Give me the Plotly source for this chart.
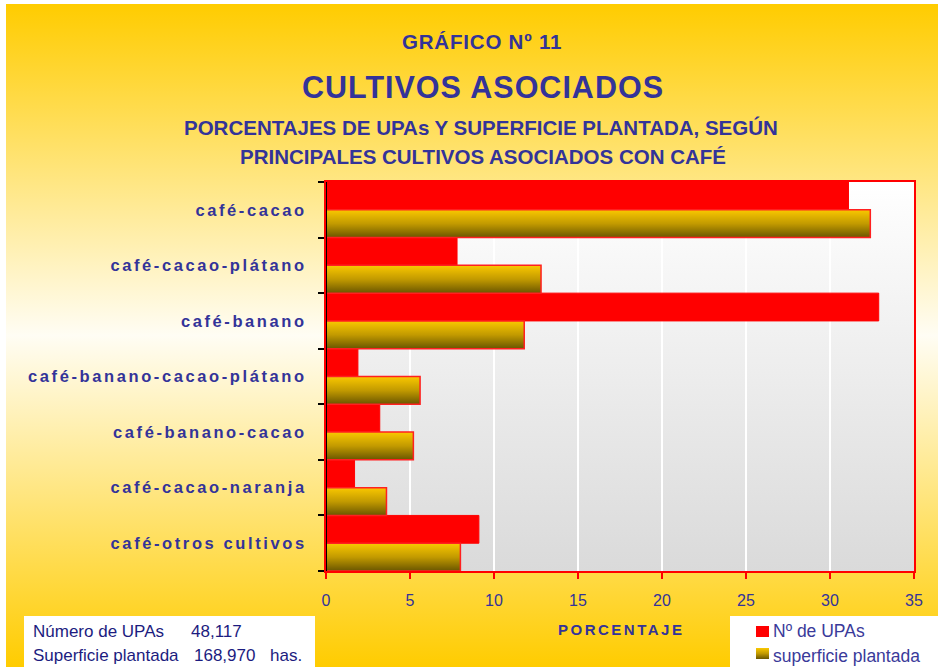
import base64
import plotly.graph_objects as go

# ---------------- data ----------------
categories = ["café-cacao", "café-cacao-plátano", "café-banano",
              "café-banano-cacao-plátano", "café-banano-cacao",
              "café-cacao-naranja", "café-otros cultivos"]
pct_upas = [31.1, 7.8, 32.9, 1.9, 3.2, 1.7, 9.1]
pct_superficie = [32.4, 12.8, 11.8, 5.6, 5.2, 3.6, 8.0]
x_ticks = [0, 5, 10, 15, 20, 25, 30, 35]
series_names = ["Nº de UPAs", "superficie plantada"]
info_labels = ["Número de UPAs", "Superficie plantada"]
info_values = ["48,117", "168,970"]
info_unit = "has."

# ---------------- layout geometry ----------------
W, H = 938, 667
L, R, T, B = 326, 24, 182, 96
PW, PH = W - L - R, H - T - B
FONT = "Liberation Sans, Arial, sans-serif"
NAVY = "#333399"


def px(x):
    return (x - L) / PW


def py(y):
    return (H - B - y) / PH


def svg_uri(stops, w=10, h=200):
    st = "".join(f'<stop offset="{o}" stop-color="{c}"/>' for o, c in stops)
    svg = (f'<svg xmlns="http://www.w3.org/2000/svg" width="{w}" height="{h}" '
           f'viewBox="0 0 {w} {h}" preserveAspectRatio="none"><defs>'
           f'<linearGradient id="g" x1="0" y1="0" x2="0" y2="1">{st}</linearGradient>'
           f'</defs><rect width="{w}" height="{h}" fill="url(#g)"/></svg>')
    return "data:image/svg+xml;base64," + base64.b64encode(svg.encode()).decode()


def spaced(text, sp):
    return f'<span style="letter-spacing:{sp}px">{text}</span>'


n = len(categories)
centers = [n - 1 - i for i in range(n)]
bounds = [c - 0.5 for c in centers] + [centers[0] + 0.5]

fig = go.Figure()

# red bars (upper half of each band)
fig.add_trace(go.Bar(
    x=pct_upas, y=[c + 0.25 for c in centers], width=0.5, orientation="h",
    name=series_names[0], marker=dict(color="#FF0000", line=dict(color="#FF0000", width=1)),
    showlegend=False, hoverinfo="x"))

# gradient bars (lower half of each band)
gold_scale = [[0, "#6A5600"], [0.5, "#C29A00"], [1, "#FAC800"]]
for c, v in zip(centers, pct_superficie):
    fig.add_trace(go.Scatter(
        x=[0, v, v, 0, 0], y=[c - 0.5, c - 0.5, c, c, c - 0.5],
        mode="lines", fill="toself",
        fillgradient=dict(type="vertical", colorscale=gold_scale),
        line=dict(color="#FF2020", width=1.5),
        name=series_names[1], showlegend=False, hoverinfo="skip"))

images = [
    dict(source=svg_uri([(0, "#FFCC00"), (0.5, "#FFFDF4"), (1, "#FFCC00")]),
         xref="paper", yref="paper", x=px(6), y=py(4), sizex=(W - 6) / PW,
         sizey=(H - 4) / PH, xanchor="left", yanchor="top", sizing="stretch",
         layer="below"),
    dict(source=svg_uri([(0, "#FFFFFF"), (1, "#DADADA")]),
         xref="paper", yref="paper", x=0, y=1, sizex=1, sizey=1,
         xanchor="left", yanchor="top", sizing="stretch", layer="below"),
    dict(source=svg_uri([(0, "#FAC800"), (0.5, "#C29A00"), (1, "#6A5600")], w=10, h=10),
         xref="paper", yref="paper", x=px(756), y=py(648), sizex=13 / PW,
         sizey=11 / PH, xanchor="left", yanchor="top", sizing="stretch",
         layer="above"),
]

shapes = [
    dict(type="rect", xref="paper", yref="paper", x0=px(24), x1=px(315),
         y0=py(667), y1=py(616), fillcolor="white", line=dict(width=0), layer="below"),
    dict(type="rect", xref="paper", yref="paper", x0=px(730), x1=px(938),
         y0=py(667), y1=py(616), fillcolor="white", line=dict(width=0), layer="below"),
    dict(type="rect", xref="paper", yref="paper", x0=px(756), x1=px(769),
         y0=py(637), y1=py(626), fillcolor="#FF0000", line=dict(width=0), layer="above"),
    dict(type="line", xref="x", yref="paper", x0=0, x1=0, y0=0, y1=1,
         line=dict(color="black", width=2), layer="above"),
]


def ann(text, x, y, size, bold=False, color=NAVY, xanchor="center"):
    return dict(text=text, xref="paper", yref="paper", x=px(x), y=py(y),
                xanchor=xanchor, yanchor="middle", showarrow=False,
                font=dict(family=FONT, size=size, color=color,
                          weight="bold" if bold else "normal"))


annotations = [
    ann(spaced("GRÁFICO Nº 11", 0.8), 482, 41, 20.5, True),
    ann(spaced("CULTIVOS ASOCIADOS", 1.0), 483, 87, 30.5, True),
    ann("PORCENTAJES DE UPAs Y SUPERFICIE PLANTADA, SEGÚN", 481, 128, 20.5, True),
    ann("PRINCIPALES CULTIVOS ASOCIADOS CON CAFÉ", 483, 157, 20.5, True),
    ann(spaced("PORCENTAJE", 2.5), 621, 629, 15, True),
    ann(info_labels[0], 31, 631, 17, color="#1C1C80", xanchor="left"),
    ann(info_values[0], 189, 631, 17, color="#1C1C80", xanchor="left"),
    ann(info_labels[1], 31, 655, 17, color="#1C1C80", xanchor="left"),
    ann(info_values[1], 192, 655, 17, color="#1C1C80", xanchor="left"),
    ann(info_unit, 268, 655, 17, color="#1C1C80", xanchor="left"),
    ann(series_names[0], 771, 631, 17.5, color="#3A3A9A", xanchor="left"),
    ann(series_names[1], 771, 656, 17.5, color="#3A3A9A", xanchor="left"),
]

fig.update_layout(
    width=W, height=H, autosize=False,
    margin=dict(l=L, r=R, t=T, b=B, pad=0),
    paper_bgcolor="white", plot_bgcolor="white",
    showlegend=False, barmode="overlay",
    font=dict(family=FONT, color=NAVY),
    images=images, shapes=shapes, annotations=annotations,
    xaxis=dict(range=[0, 35], tickmode="array", tickvals=x_ticks,
               ticks="outside", ticklen=6, tickwidth=2, tickcolor="#FF0000",
               showline=True, linecolor="#FF0000", linewidth=2, mirror=True,
               showgrid=True, gridcolor="white", gridwidth=1.5, zeroline=False,
               tickfont=dict(family=FONT, size=16, color=NAVY),
               ticklabelstandoff=8, fixedrange=True),
    yaxis=dict(range=[-0.5, n - 0.5], tickmode="array", tickvals=centers,
               ticktext=[spaced(c, 2.6) for c in categories], ticks="",
               showline=True, linecolor="#FF0000", linewidth=2, mirror=True,
               showgrid=False, zeroline=False,
               minor=dict(tickmode="array", tickvals=bounds, ticks="outside",
                          ticklen=6, tickwidth=2, tickcolor="black", showgrid=False),
               tickfont=dict(family=FONT, size=16.5, color=NAVY, weight="bold"),
               ticklabelstandoff=14, fixedrange=True),
)

fig.write_html(
    "out.html",
    config={"displayModeBar": False},
    post_script="document.body.style.margin='0';document.body.style.padding='0';"
                "document.body.style.overflow='hidden';",
)
